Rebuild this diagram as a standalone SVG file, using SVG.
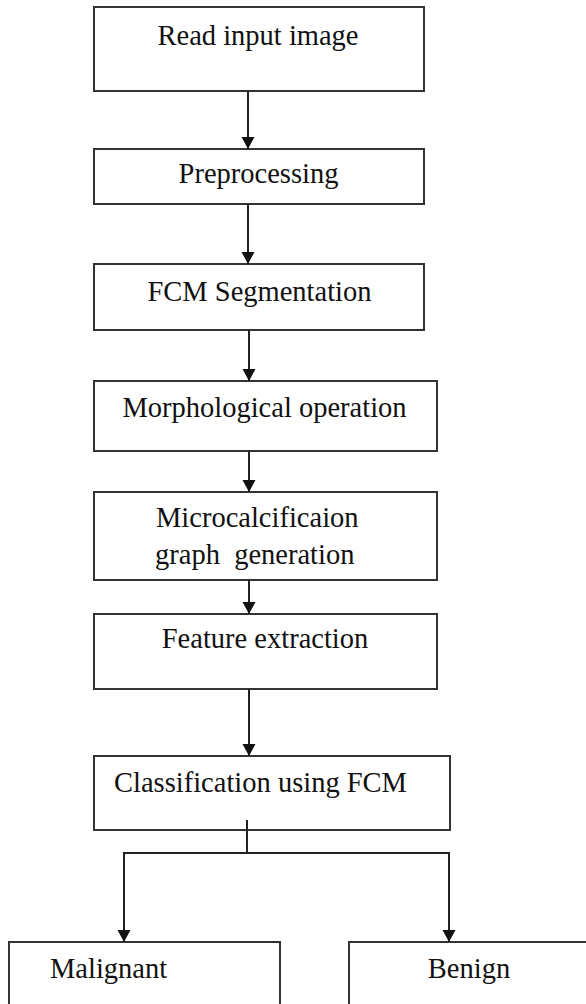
<svg xmlns="http://www.w3.org/2000/svg" width="586" height="1004" viewBox="0 0 586 1004">
<style>
.box{fill:#fff;stroke:#333;stroke-width:2}
.lbl{font-family:"Liberation Serif","Times New Roman",serif;font-size:28.5px;fill:#111}
.mid{text-anchor:middle}
.conn{fill:none;stroke:#222;stroke-width:2}
</style>
<defs>
<marker id="arr" markerUnits="userSpaceOnUse" markerWidth="14" markerHeight="14" refX="12" refY="6.5" orient="auto">
<path d="M0,0 L12,6.5 L0,13 z" fill="#111"/>
</marker>
</defs>
<rect width="586" height="1004" fill="#fff"/>
<g id="n1"><rect class="box" x="94" y="7" width="330" height="84"/><text class="lbl mid" x="258" y="45">Read input image</text></g>
<g id="n2"><rect class="box" x="94" y="149" width="330" height="55"/><text class="lbl mid" x="258.5" y="183">Preprocessing</text></g>
<g id="n3"><rect class="box" x="94" y="264" width="330" height="66"/><text class="lbl mid" x="259.5" y="301">FCM Segmentation</text></g>
<g id="n4"><rect class="box" x="94" y="381" width="343" height="70"/><text class="lbl mid" x="264.5" y="417">Morphological operation</text></g>
<g id="n5"><rect class="box" x="94" y="492" width="343" height="88"/><text class="lbl" x="156" y="527">Microcalcificaion</text><text class="lbl" x="155" y="564" xml:space="preserve">graph  generation</text></g>
<g id="n6"><rect class="box" x="94" y="614" width="343" height="75"/><text class="lbl mid" x="265" y="648">Feature extraction</text></g>
<g id="n7"><rect class="box" x="94" y="756" width="356" height="74"/><text class="lbl mid" x="260.5" y="792">Classification using FCM</text></g>
<g id="n8"><rect class="box" x="9" y="942" width="271" height="80"/><text class="lbl" x="50" y="978">Malignant</text></g>
<g id="n9"><rect class="box" x="349" y="942" width="260" height="80"/><text class="lbl mid" x="469" y="978">Benign</text></g>
<g id="connectors">
<line class="conn" x1="248" y1="91" x2="248" y2="149" marker-end="url(#arr)"/>
<line class="conn" x1="248" y1="204" x2="248" y2="264" marker-end="url(#arr)"/>
<line class="conn" x1="249" y1="330" x2="249" y2="381" marker-end="url(#arr)"/>
<line class="conn" x1="249" y1="451" x2="249" y2="492" marker-end="url(#arr)"/>
<line class="conn" x1="249" y1="580" x2="249" y2="614" marker-end="url(#arr)"/>
<line class="conn" x1="249" y1="689" x2="249" y2="756" marker-end="url(#arr)"/>
<polyline class="conn" points="247,820 247,853"/>
<polyline class="conn" points="247,853 124,853 124,942" marker-end="url(#arr)"/>
<polyline class="conn" points="247,853 449,853 449,942" marker-end="url(#arr)"/>
</g>
</svg>
